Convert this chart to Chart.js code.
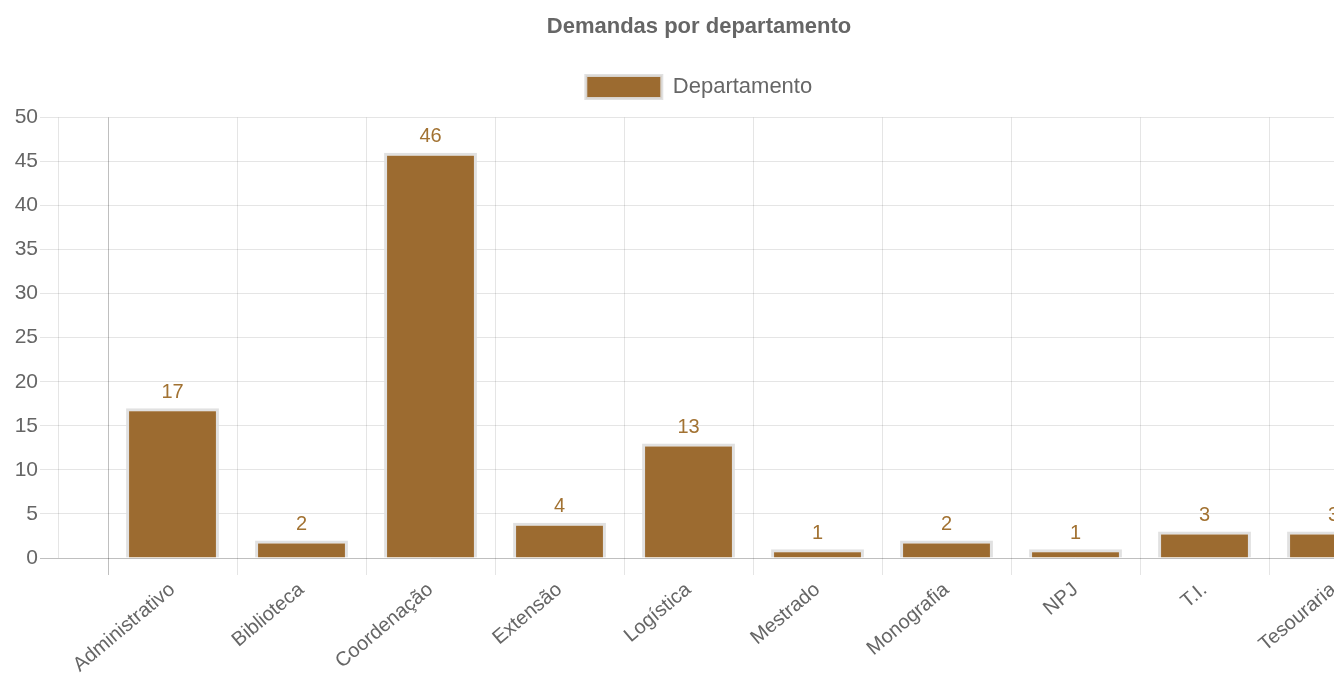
<!DOCTYPE html>
<html>
<head>
<meta charset="utf-8">
<script src="https://cdn.jsdelivr.net/npm/chart.js@4/dist/chart.umd.min.js"></script>
<style>
  html, body { margin: 0; padding: 0; overflow: hidden; background: #fff; }
  #wrap { width: 1402px; height: 675px; }
</style>
</head>
<body>
<div id="wrap"><canvas id="eventChart"></canvas></div>
<script>
const departamentos = ["Administrativo", "Biblioteca", "Coordenação", "Extensão", "Logística",
  "Mestrado", "Monografia", "NPJ", "T.I.", "Tesouraria"];
const demandas = [17, 2, 46, 4, 13, 1, 2, 1, 3, 3];
const yMax = 50;
const yStep = 5;

const brown = "#9c6b30";
const gridLight = "rgba(0,0,0,0.1)";
const gridZero = "rgba(0,0,0,0.25)";
const font = "'Liberation Sans', Arial, Helvetica, sans-serif";

Chart.defaults.font.family = font;
Chart.defaults.color = "#666";

// value above every bar
const valueLabels = {
  id: "valueLabels",
  afterDatasetsDraw(chart) {
    const ctx = chart.ctx;
    const meta = chart.getDatasetMeta(0);
    ctx.save();
    ctx.font = "20px " + font;
    ctx.fillStyle = "#a27232";
    ctx.textAlign = "center";
    ctx.textBaseline = "bottom";
    meta.data.forEach((bar, i) => {
      ctx.fillText(chart.data.datasets[0].data[i], bar.x, bar.y - 6);
    });
    ctx.restore();
  }
};

// light y axis border left of the category area (old chart.js look)
const yBorder = {
  id: "yBorder",
  beforeDatasetsDraw(chart) {
    const y = chart.scales.y;
    const x = y.right - 50;
    const ctx = chart.ctx;
    ctx.save();
    ctx.strokeStyle = gridLight;
    ctx.lineWidth = 1;
    ctx.beginPath();
    ctx.moveTo(x + 0.5, chart.chartArea.top);
    ctx.lineTo(x + 0.5, chart.chartArea.bottom);
    ctx.stroke();
    ctx.restore();
  }
};

// a bit more room under the legend
const legendMargin = {
  id: "legendMargin",
  beforeInit(chart) {
    const fit = chart.legend.fit;
    chart.legend.fit = function () {
      fit.bind(chart.legend)();
      this.height += 9;
    };
  }
};

new Chart(document.getElementById("eventChart"), {
  type: "bar",
  data: {
    labels: departamentos,
    datasets: [{
      label: "Departamento",
      data: demandas,
      backgroundColor: brown,
      borderColor: "rgba(222,222,222,0.9)",
      borderWidth: 3,
      barPercentage: 0.9,
      categoryPercentage: 0.8
    }]
  },
  options: {
    responsive: true,
    maintainAspectRatio: false,
    animation: false,
    layout: { padding: { top: 0, right: 4, bottom: 0, left: 0 } },
    plugins: {
      title: {
        display: true,
        text: "Demandas por departamento",
        color: "#666",
        font: { size: 22, weight: "bold" },
        padding: { top: 14, bottom: 20 }
      },
      legend: {
        labels: {
          boxWidth: 76,
          boxHeight: 23,
          color: "#666",
          font: { size: 22 },
          padding: 15
        }
      },
      tooltip: { enabled: false }
    },
    scales: {
      x: {
        grid: {
          offset: true,
          color: ctx => ctx.index === 0 ? gridZero : gridLight,
          tickLength: 17
        },
        border: { display: false },
        ticks: {
          font: { size: 20 },
          color: "#666",
          minRotation: 40,
          maxRotation: 40,
          padding: 3
        },
        afterFit(scale) { scale.height = 117; }
      },
      y: {
        min: 0,
        max: yMax,
        grid: {
          color: ctx => ctx.tick && ctx.tick.value === 0 ? gridZero : gridLight,
          tickLength: 68
        },
        border: { display: false },
        ticks: {
          stepSize: yStep,
          font: { size: 21 },
          color: "#666",
          padding: 2
        },
        afterFit(scale) { scale.width = 108; }
      }
    }
  },
  plugins: [valueLabels, yBorder, legendMargin]
});
</script>
</body>
</html>
